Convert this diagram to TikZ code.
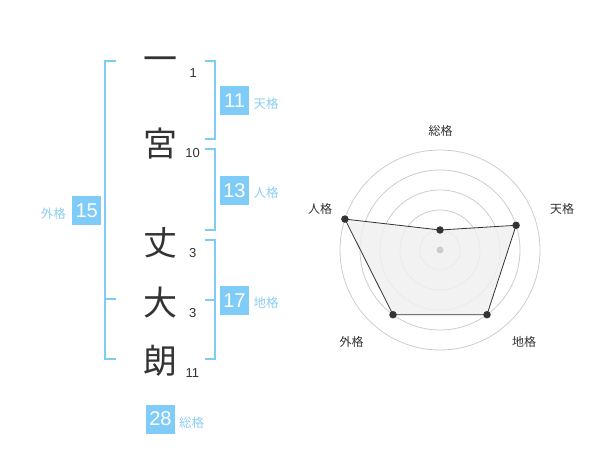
\documentclass[tikz,border=0pt]{standalone}
\usepackage{fontspec}
\setmainfont{Liberation Sans}
\newfontfamily\jp{Noto Sans CJK JP}
\definecolor{bblue}{RGB}{128,204,248}
\definecolor{lblue}{RGB}{140,205,242}
\definecolor{dgray}{RGB}{51,51,51}
\definecolor{cgray}{RGB}{204,204,204}
\definecolor{fgray}{RGB}{240,240,240}
\begin{document}
\begin{tikzpicture}[x=1pt,y=-1pt,
  bigchar/.style={font=\jp\fontsize{34}{34}\selectfont, text=dgray, inner sep=0pt, text height=0.86em, text depth=0.14em},
  stroke/.style={font=\fontsize{13}{13}\selectfont, text=dgray, inner sep=0pt},
  numbox/.style={fill=bblue, text=white, minimum size=29pt, inner sep=0pt, font=\fontsize{20}{20}\selectfont},
  kaku/.style={font=\jp\fontsize{12.5}{12.5}\selectfont, text=lblue, inner sep=0pt},
  rlabel/.style={font=\jp\fontsize{12}{12}\selectfont, text=dgray, inner sep=0pt},
  brk/.style={draw=bblue, line width=2pt},
  ring/.style={draw=cgray, line width=0.8pt},
  rdot/.style={circle, fill=dgray, inner sep=0pt, minimum size=7.5pt},
]
\useasboundingbox (0,0) rectangle (600,470);

% name characters
\node[bigchar] (c1) at (160,67.5) {一};
\node[bigchar] (c2) at (160,152.5) {宮};
\node[bigchar] (c3) at (160,251.5) {丈};
\node[bigchar] (c4) at (160,311.5) {大};
\node[bigchar] (c5) at (160,369.5) {朗};

% stroke counts
\node[stroke] (s1) at (193.3,72.7) {1};
\node[stroke] (s2) at (192.7,153.3) {10};
\node[stroke] (s3) at (192.7,252.7) {3};
\node[stroke] (s4) at (192.7,312.7) {3};
\node[stroke] (s5) at (192.3,372.7) {11};

% brackets
\draw[brk] (205,60.7) -- (215,60.7) -- (215,139.3) -- (205,139.3);
\draw[brk] (205,149.3) -- (215,149.3) -- (215,230) -- (205,230);
\draw[brk] (205,240) -- (215,240) -- (215,359.3) -- (205,359.3);
\draw[brk] (205,300) -- (215,300);
\draw[brk] (116,60.7) -- (105,60.7) -- (105,359.3) -- (116,359.3);
\draw[brk] (105,299.5) -- (116,299.5);

% boxes and labels
\node[numbox] (b1) at (234.5,100.3) {11};
\node[kaku] (k1) at (266,104) {天格};
\node[numbox] (b2) at (234.5,190.3) {13};
\node[kaku] (k2) at (266,193) {人格};
\node[numbox] (b3) at (234.5,300.3) {17};
\node[kaku] (k3) at (266,303) {地格};
\node[numbox] (b4) at (86.7,210.3) {15};
\node[kaku] (k4) at (53.3,213.3) {外格};
\node[numbox] (b5) at (160.5,419) {28};
\node[kaku] (k5) at (191.7,422.3) {総格};

% radar chart
\coordinate (R) at (440,250);
\foreach \r in {20,40,60,80,100} \draw[ring] (R) circle[radius=\r];
\coordinate (pS) at (440,230);
\coordinate (pT) at (516.1,225.3);
\coordinate (pC) at (487.0,314.7);
\coordinate (pG) at (393.0,314.7);
\coordinate (pJ) at (344.9,219.1);
\fill[fgray, fill opacity=0.85] (pS) -- (pT) -- (pC) -- (pG) -- (pJ) -- cycle;
\draw[dgray, line width=0.8pt] (pS) -- (pT) -- (pC) -- (pG) -- (pJ) -- cycle;
\node[circle, fill=cgray, inner sep=0pt, minimum size=7pt] (cen) at (R) {};
\foreach \p in {pS,pT,pC,pG,pJ} \node[rdot] (d\p) at (\p) {};
\node[rlabel] (lS) at (440.7,130.7) {総格};
\node[rlabel] (lT) at (562,209) {天格};
\node[rlabel] (lC) at (524,342) {地格};
\node[rlabel] (lG) at (351.7,342) {外格};
\node[rlabel] (lJ) at (320,209) {人格};
\end{tikzpicture}
\end{document}
